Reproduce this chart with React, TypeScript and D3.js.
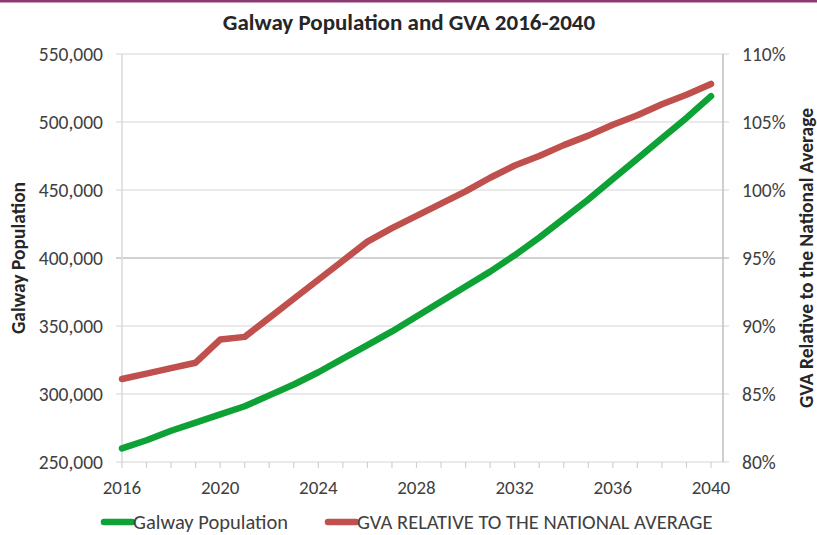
import React, { useRef, useEffect } from 'react';
import * as d3 from 'd3';

const years = d3.range(2016, 2041);

// Galway population (thousands)
const population = [
  260, 266, 273, 279, 285, 291, 299, 307, 316, 326, 336, 346, 357,
  368, 379, 390, 402, 415, 429, 443, 458, 473, 488, 503, 519,
];

// GVA relative to national average (%)
const gva = [
  86.1, 86.5, 86.9, 87.3, 89.0, 89.2, 90.6, 92.0, 93.4, 94.8, 96.2, 97.2, 98.1,
  99.0, 99.9, 100.9, 101.8, 102.5, 103.3, 104.0, 104.8, 105.5, 106.3, 107.0, 107.8,
];

const leftTicks = [250000, 300000, 350000, 400000, 450000, 500000, 550000];
const rightTicks = [80, 85, 90, 95, 100, 105, 110];
const yearLabels = [2016, 2020, 2024, 2028, 2032, 2036, 2040];

const seriesNames = ['Galway Population', 'GVA RELATIVE TO THE NATIONAL AVERAGE'];

const GREEN = '#0ea236';
const RED = '#c0504d';
const TEXT = '#404040';
const FONT = 'Carlito, Lato, "Open Sans", sans-serif';

const W = 817;
const H = 535;

const Chart: React.FC = () => {
  const svgRef = useRef<SVGSVGElement>(null);

  useEffect(() => {
    if (!svgRef.current) return;
    const svg = d3.select(svgRef.current);
    svg.selectAll('*').remove();

    const plotLeft = 122;
    const plotRight = 723;
    const plotTop = 54;
    const plotBottom = 462;

    const x = d3.scaleLinear().domain([2016, 2040]).range([plotLeft, 711]);
    const yL = d3.scaleLinear().domain([250000, 550000]).range([plotBottom, plotTop]);
    const yR = d3.scaleLinear().domain([80, 110]).range([plotBottom, plotTop]);

    svg.append('rect').attr('width', W).attr('height', H).attr('fill', '#fff');
    // top border strip
    svg.append('rect').attr('x', 0).attr('y', 0).attr('width', W).attr('height', 2.5).attr('fill', '#8c3b6e');

    // title
    svg.append('text')
      .attr('x', 409)
      .attr('y', 30)
      .attr('text-anchor', 'middle')
      .attr('font-family', FONT)
      .attr('font-size', '23px')
      .attr('font-weight', 700)
      .attr('fill', '#262626')
      .text('Galway Population and GVA 2016-2040');

    // gridlines
    leftTicks.forEach(t => {
      const isMid = t === 400000;
      svg.append('line')
        .attr('x1', plotLeft - 6)
        .attr('x2', plotRight + 6)
        .attr('y1', yL(t))
        .attr('y2', yL(t))
        .attr('stroke', isMid ? '#a6a6a6' : '#e3e3e3')
        .attr('stroke-width', isMid ? 1.2 : 1.6);
    });

    // axes lines
    svg.append('line')
      .attr('x1', plotLeft).attr('x2', plotLeft)
      .attr('y1', plotTop).attr('y2', plotBottom)
      .attr('stroke', '#d9d9d9').attr('stroke-width', 1.5);
    svg.append('line')
      .attr('x1', plotRight).attr('x2', plotRight)
      .attr('y1', plotTop).attr('y2', plotBottom)
      .attr('stroke', '#bfbfbf').attr('stroke-width', 1.5);

    // bottom axis ticks
    years.forEach(yr => {
      svg.append('line')
        .attr('x1', x(yr)).attr('x2', x(yr))
        .attr('y1', plotBottom).attr('y2', plotBottom + 6)
        .attr('stroke', '#d0d0d0').attr('stroke-width', 1.2);
    });

    // tick labels
    leftTicks.forEach(t => {
      svg.append('text')
        .attr('x', 103)
        .attr('y', yL(t) + 6.5)
        .attr('text-anchor', 'end')
        .attr('font-family', FONT)
        .attr('font-size', '19.5px')
        .attr('fill', TEXT)
        .text(d3.format(',')(t));
    });
    rightTicks.forEach(t => {
      svg.append('text')
        .attr('x', 742)
        .attr('y', yR(t) + 6.5)
        .attr('font-family', FONT)
        .attr('font-size', '19.5px')
        .attr('fill', TEXT)
        .text(`${t}%`);
    });
    yearLabels.forEach(yr => {
      svg.append('text')
        .attr('x', x(yr))
        .attr('y', 494)
        .attr('text-anchor', 'middle')
        .attr('font-family', FONT)
        .attr('font-size', '19px')
        .attr('fill', TEXT)
        .text(yr);
    });

    // axis titles
    svg.append('text')
      .attr('transform', `translate(25, ${(plotTop + plotBottom) / 2}) rotate(-90)`)
      .attr('text-anchor', 'middle')
      .attr('font-family', FONT)
      .attr('font-size', '19.5px')
      .attr('font-weight', 700)
      .attr('fill', '#262626')
      .text('Galway Population');
    svg.append('text')
      .attr('transform', `translate(813, ${(plotTop + plotBottom) / 2}) rotate(-90)`)
      .attr('text-anchor', 'middle')
      .attr('font-family', FONT)
      .attr('font-size', '19.5px')
      .attr('font-weight', 700)
      .attr('fill', '#262626')
      .text('GVA Relative to the National Average');

    // series
    const popLine = d3.line<number>()
      .x((_, i) => x(years[i]))
      .y(d => yL(d * 1000));
    const gvaLine = d3.line<number>()
      .x((_, i) => x(years[i]))
      .y(d => yR(d));

    svg.append('path')
      .datum(population)
      .attr('d', popLine)
      .attr('fill', 'none')
      .attr('stroke', GREEN)
      .attr('stroke-width', 6.5)
      .attr('stroke-linecap', 'round')
      .attr('stroke-linejoin', 'round');

    svg.append('path')
      .datum(gva)
      .attr('d', gvaLine)
      .attr('fill', 'none')
      .attr('stroke', RED)
      .attr('stroke-width', 6.5)
      .attr('stroke-linecap', 'round')
      .attr('stroke-linejoin', 'round');

    // legend
    const legendItems = [
      { name: seriesNames[0], color: GREEN, x0: 104 },
      { name: seriesNames[1], color: RED, x0: 328 },
    ];
    legendItems.forEach(it => {
      svg.append('line')
        .attr('x1', it.x0).attr('x2', it.x0 + 28)
        .attr('y1', 522).attr('y2', 522)
        .attr('stroke', it.color)
        .attr('stroke-width', 6.5)
        .attr('stroke-linecap', 'round');
      svg.append('text')
        .attr('x', it.x0 + 29)
        .attr('y', 529)
        .attr('font-family', FONT)
        .attr('font-size', '20.5px')
        .attr('fill', TEXT)
        .text(it.name);
    });
  }, []);

  return (
    <svg
      ref={svgRef}
      width={W}
      height={H}
      style={{ position: 'absolute', left: 0, top: 0 }}
    />
  );
};

export default function App() {
  return <Chart />;
}
